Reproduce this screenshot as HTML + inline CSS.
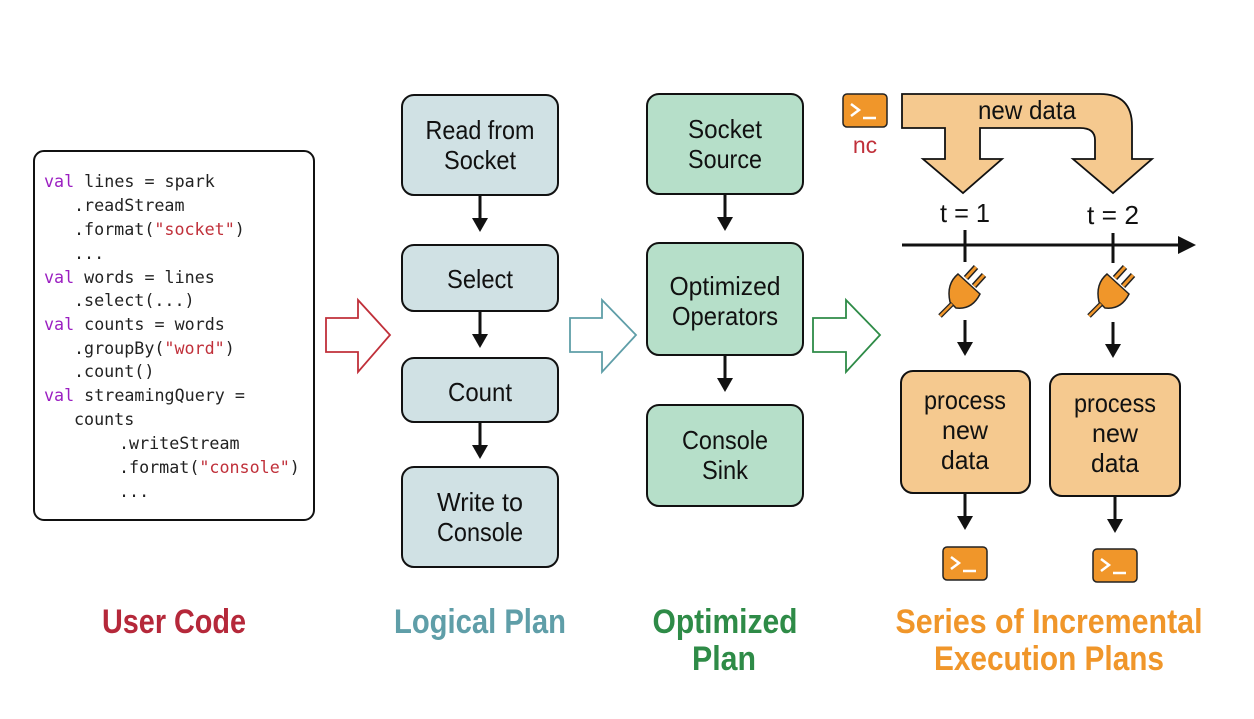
<!DOCTYPE html>
<html><head><meta charset="utf-8"><style>
html,body{margin:0;padding:0;background:#fff;}
svg{display:block}
.lb{font-family:"Liberation Sans",sans-serif;font-size:26px;fill:#111;text-anchor:middle}
.cd{font-family:"DejaVu Sans Mono","Liberation Mono",monospace;font-size:16.7px;fill:#222}
.tt{font-family:"Liberation Sans",sans-serif;font-size:34px;font-weight:bold;text-anchor:middle}
</style></head><body>
<svg width="1254" height="719" viewBox="0 0 1254 719" xmlns="http://www.w3.org/2000/svg">
<defs>
<g id="term"><rect x="0" y="0" width="44" height="33" rx="4" fill="#f0962a" stroke="#222" stroke-width="1.5"/><path d="M8 10 L16 16 L8 22" stroke="#fff" stroke-width="2.5" fill="none"/><line x1="20" y1="24" x2="33" y2="24" stroke="#fff" stroke-width="2.5"/></g>
<g id="plug"><line x1="4" y1="-2" x2="14" y2="-13" stroke="#222" stroke-width="6"/><line x1="4" y1="-2" x2="14" y2="-13" stroke="#f0962a" stroke-width="3"/><line x1="12" y1="6" x2="22" y2="-5" stroke="#222" stroke-width="6"/><line x1="12" y1="6" x2="22" y2="-5" stroke="#f0962a" stroke-width="3"/><path d="M-4 -6 L18 14 Q10 30 -6 28 L-12 22 Q-16 4 -4 -6 Z" fill="#f0962a" stroke="#222" stroke-width="1.5"/><line x1="-10" y1="24" x2="-22" y2="36" stroke="#222" stroke-width="5"/><line x1="-10" y1="24" x2="-22" y2="36" stroke="#f0962a" stroke-width="2.5"/></g>
<g id="dn"><line x1="0" y1="0" x2="0" y2="24" stroke="#111" stroke-width="3"/><polygon points="-8,22 8,22 0,36" fill="#111"/></g>
</defs>
<rect x="34" y="151" width="280" height="369" rx="10" fill="#fff" stroke="#111" stroke-width="2"/>
<g class="cd">
<text x="44" y="187"><tspan fill="#9b1fc1">val</tspan> lines = spark</text>
<text x="74" y="211">.readStream</text>
<text x="74" y="235">.format(<tspan fill="#c0303a">"socket"</tspan>)</text>
<text x="74" y="259">...</text>
<text x="44" y="283"><tspan fill="#9b1fc1">val</tspan> words = lines</text>
<text x="74" y="306">.select(...)</text>
<text x="44" y="330"><tspan fill="#9b1fc1">val</tspan> counts = words</text>
<text x="74" y="354">.groupBy(<tspan fill="#c0303a">"word"</tspan>)</text>
<text x="74" y="377">.count()</text>
<text x="44" y="401"><tspan fill="#9b1fc1">val</tspan> streamingQuery =</text>
<text x="74" y="425">counts</text>
<text x="119" y="449">.writeStream</text>
<text x="119" y="473">.format(<tspan fill="#c0303a">"console"</tspan>)</text>
<text x="119" y="497">...</text>
</g>
<polygon points="326,318 358,318 358,300 390,335 358,372 358,352 326,352" fill="#fff" stroke="#c0303a" stroke-width="1.8"/>
<polygon points="570,318 602,318 602,300 636,335 602,372 602,352 570,352" fill="#fff" stroke="#5f9ea8" stroke-width="1.8"/>
<polygon points="813,318 846,318 846,300 880,335 846,372 846,352 813,352" fill="#fff" stroke="#2e8b47" stroke-width="1.8"/>
<g fill="#d0e1e4" stroke="#111" stroke-width="2">
<rect x="402" y="95" width="156" height="100" rx="12"/>
<rect x="402" y="245" width="156" height="66" rx="12"/>
<rect x="402" y="358" width="156" height="64" rx="12"/>
<rect x="402" y="467" width="156" height="100" rx="12"/>
</g>
<text class="lb" x="480" y="139" textLength="109" lengthAdjust="spacingAndGlyphs">Read from</text><text class="lb" x="480" y="169" textLength="72" lengthAdjust="spacingAndGlyphs">Socket</text>
<text class="lb" x="480" y="288" textLength="66" lengthAdjust="spacingAndGlyphs">Select</text>
<text class="lb" x="480" y="401" textLength="64" lengthAdjust="spacingAndGlyphs">Count</text>
<text class="lb" x="480" y="511" textLength="86" lengthAdjust="spacingAndGlyphs">Write to</text><text class="lb" x="480" y="541" textLength="86" lengthAdjust="spacingAndGlyphs">Console</text>
<use href="#dn" x="480" y="196"/><use href="#dn" x="480" y="312"/><use href="#dn" x="480" y="423"/>
<g fill="#b6dfc9" stroke="#111" stroke-width="2">
<rect x="647" y="94" width="156" height="100" rx="12"/>
<rect x="647" y="243" width="156" height="112" rx="12"/>
<rect x="647" y="405" width="156" height="101" rx="12"/>
</g>
<text class="lb" x="725" y="138" textLength="74" lengthAdjust="spacingAndGlyphs">Socket</text><text class="lb" x="725" y="168" textLength="74" lengthAdjust="spacingAndGlyphs">Source</text>
<text class="lb" x="725" y="295" textLength="111" lengthAdjust="spacingAndGlyphs">Optimized</text><text class="lb" x="725" y="325" textLength="106" lengthAdjust="spacingAndGlyphs">Operators</text>
<text class="lb" x="725" y="449" textLength="86" lengthAdjust="spacingAndGlyphs">Console</text><text class="lb" x="725" y="479" textLength="46" lengthAdjust="spacingAndGlyphs">Sink</text>
<use href="#dn" x="725" y="195"/><use href="#dn" x="725" y="356"/>
<use href="#term" x="843" y="94"/>
<text x="865" y="153" style="font-family:'Liberation Sans',sans-serif;font-size:23px;fill:#c0303a;text-anchor:middle">nc</text>
<path d="M902 94 L1100 94 Q1132 94 1132 126 L1132 159 L1152 159 L1113 193 L1073 159 L1095 159 L1095 140 Q1095 128 1080 128 L980 128 L980 159 L1002 159 L963 193 L923 159 L945 159 L945 128 L902 128 Z" fill="#f5c98f" stroke="#111" stroke-width="1.8"/>
<text class="lb" x="1027" y="119" textLength="98" lengthAdjust="spacingAndGlyphs">new data</text>
<text class="lb" x="965" y="222" textLength="50" lengthAdjust="spacingAndGlyphs">t = 1</text>
<text class="lb" x="1113" y="224" textLength="52" lengthAdjust="spacingAndGlyphs">t = 2</text>
<line x1="902" y1="245" x2="1180" y2="245" stroke="#111" stroke-width="3"/>
<polygon points="1178,236 1196,245 1178,254" fill="#111"/>
<line x1="965" y1="230" x2="965" y2="262" stroke="#111" stroke-width="3"/>
<line x1="1113" y1="233" x2="1113" y2="263" stroke="#111" stroke-width="3"/>
<use href="#plug" x="962" y="280"/><use href="#plug" x="1111" y="280"/>
<use href="#dn" x="965" y="320"/><use href="#dn" x="1113" y="322"/>
<g fill="#f5c98f" stroke="#111" stroke-width="2">
<rect x="901" y="371" width="129" height="122" rx="12"/>
<rect x="1050" y="374" width="130" height="122" rx="12"/>
</g>
<text class="lb" x="965" y="409" textLength="82" lengthAdjust="spacingAndGlyphs">process</text><text class="lb" x="965" y="439" textLength="46" lengthAdjust="spacingAndGlyphs">new</text><text class="lb" x="965" y="469" textLength="48" lengthAdjust="spacingAndGlyphs">data</text>
<text class="lb" x="1115" y="412" textLength="82" lengthAdjust="spacingAndGlyphs">process</text><text class="lb" x="1115" y="442" textLength="46" lengthAdjust="spacingAndGlyphs">new</text><text class="lb" x="1115" y="472" textLength="48" lengthAdjust="spacingAndGlyphs">data</text>
<use href="#dn" x="965" y="494"/><use href="#dn" x="1115" y="497"/>
<use href="#term" x="943" y="547"/><use href="#term" x="1093" y="549"/>
<text class="tt" x="174" y="633" fill="#b5283a" textLength="144" lengthAdjust="spacingAndGlyphs">User Code</text>
<text class="tt" x="480" y="633" fill="#5f9ea8" textLength="172" lengthAdjust="spacingAndGlyphs">Logical Plan</text>
<text class="tt" x="725" y="633" fill="#2e8b47" textLength="145" lengthAdjust="spacingAndGlyphs">Optimized</text>
<text class="tt" x="724" y="670" fill="#2e8b47" textLength="64" lengthAdjust="spacingAndGlyphs">Plan</text>
<text class="tt" x="1049" y="633" fill="#f0962a" textLength="307" lengthAdjust="spacingAndGlyphs">Series of Incremental</text>
<text class="tt" x="1049" y="670" fill="#f0962a" textLength="230" lengthAdjust="spacingAndGlyphs">Execution Plans</text>
</svg>
</body></html>
